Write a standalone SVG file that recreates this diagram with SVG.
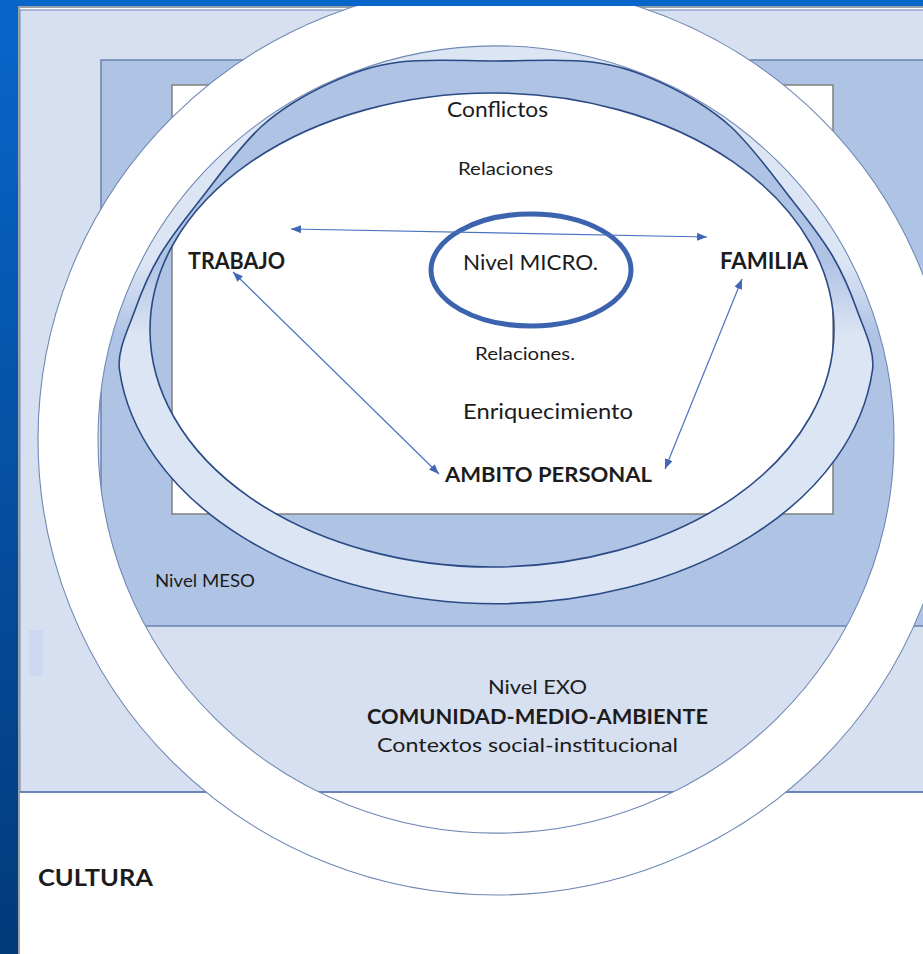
<svg xmlns="http://www.w3.org/2000/svg" width="923" height="954" viewBox="0 0 923 954">
<defs>
<linearGradient id="bg" x1="0" y1="0" x2="0" y2="1">
<stop offset="0" stop-color="#0866cb"/>
<stop offset="1" stop-color="#023a7a"/>
</linearGradient>
<linearGradient id="fade" gradientUnits="userSpaceOnUse" x1="0" y1="262" x2="0" y2="335">
<stop offset="0" stop-color="#ffffff"/>
<stop offset="1" stop-color="#000000"/>
</linearGradient>
<mask id="upper" maskUnits="userSpaceOnUse" x="0" y="0" width="923" height="954">
<rect x="0" y="0" width="923" height="954" fill="url(#fade)"/>
</mask>
<path id="shB" d="M119.5,370 C116.8,351 128.2,329.2 135,310 C141.8,290.8 149.2,273.3 160,255 C170.8,236.7 183,221.5 200,200 C217,178.5 240.3,145.5 262,126 C283.7,106.5 307,93.7 330,83 C353,72.3 372.3,65.7 400,62 C427.7,58.3 464,61 496,61 C528,61 564.3,58.3 592,62 C619.7,65.7 639,72.3 662,83 C685,93.7 708.3,106.5 730,126 C751.7,145.5 775,178.5 792,200 C809,221.5 821.2,236.7 832,255 C842.8,273.3 850.2,290.8 857,310 C863.8,329.2 875.2,351 872.5,370 A378.3,259 0 0 1 119.5,370 Z"/>
<marker id="ah" viewBox="0 0 10 8" refX="10" refY="4" markerWidth="10" markerHeight="8" markerUnits="userSpaceOnUse" orient="auto-start-reverse">
<path d="M0,0 L10,4 L0,8 Z" fill="#3f67b5"/>
</marker>
</defs>
<style>
.t{font-family:Lato,"Open Sans","Liberation Sans",sans-serif;fill:#1c1c1c}
.b{font-weight:bold}
.dk{fill:none;stroke:#2b4a85;stroke-width:1.6}
.pale{fill:#dce5f4}
.med{fill:#afc3e5}
.con{stroke:#4b72c0;stroke-width:1.2;fill:none;marker-start:url(#ah);marker-end:url(#ah)}
</style>
<rect x="0" y="0" width="923" height="954" fill="url(#bg)"/>
<g id="cultura">
<rect x="19" y="7" width="910" height="952" fill="#ffffff" stroke="#9aa0a8" stroke-width="2"/>
</g>
<g id="exo">
<rect x="20" y="10" width="910" height="782" fill="#d7e0f1" stroke="#7d93bd" stroke-width="1.2"/>
<line x1="20" y1="792" x2="923" y2="792" stroke="#5573a6" stroke-width="1.5"/>
<rect x="29" y="630" width="14" height="46" fill="#cbd8ef"/>
</g>
<g id="meso">
<rect x="101" y="60" width="830" height="566" fill="#afc3e5" stroke="#6c82ac" stroke-width="1.5"/>
</g>
<g id="micro-rect">
<rect x="172" y="85" width="661" height="429" fill="#ffffff" stroke="#808080" stroke-width="1.5"/>
</g>
<g id="micro-rings">
<path class="pale" fill-rule="evenodd" d="M119.5,370 C116.8,351 128.2,329.2 135,310 C141.8,290.8 149.2,273.3 160,255 C170.8,236.7 183,221.5 200,200 C217,178.5 240.3,145.5 262,126 C283.7,106.5 307,93.7 330,83 C353,72.3 372.3,65.7 400,62 C427.7,58.3 464,61 496,61 C528,61 564.3,58.3 592,62 C619.7,65.7 639,72.3 662,83 C685,93.7 708.3,106.5 730,126 C751.7,145.5 775,178.5 792,200 C809,221.5 821.2,236.7 832,255 C842.8,273.3 850.2,290.8 857,310 C863.8,329.2 875.2,351 872.5,370 A378.3,259 0 0 1 119.5,370 Z M150,330 a342,237 0 1,0 684,0 a342,237 0 1,0 -684,0 Z"/>
<g mask="url(#upper)">
<path class="pale" fill-rule="evenodd" d="M96,439.5 a400,395.5 0 1,0 800,0 a400,395.5 0 1,0 -800,0 Z M119.5,370 C116.8,351 128.2,329.2 135,310 C141.8,290.8 149.2,273.3 160,255 C170.8,236.7 183,221.5 200,200 C217,178.5 240.3,145.5 262,126 C283.7,106.5 307,93.7 330,83 C353,72.3 372.3,65.7 400,62 C427.7,58.3 464,61 496,61 C528,61 564.3,58.3 592,62 C619.7,65.7 639,72.3 662,83 C685,93.7 708.3,106.5 730,126 C751.7,145.5 775,178.5 792,200 C809,221.5 821.2,236.7 832,255 C842.8,273.3 850.2,290.8 857,310 C863.8,329.2 875.2,351 872.5,370 A378.3,259 0 0 1 119.5,370 Z"/>
<path class="med" fill-rule="evenodd" d="M119.5,370 C116.8,351 128.2,329.2 135,310 C141.8,290.8 149.2,273.3 160,255 C170.8,236.7 183,221.5 200,200 C217,178.5 240.3,145.5 262,126 C283.7,106.5 307,93.7 330,83 C353,72.3 372.3,65.7 400,62 C427.7,58.3 464,61 496,61 C528,61 564.3,58.3 592,62 C619.7,65.7 639,72.3 662,83 C685,93.7 708.3,106.5 730,126 C751.7,145.5 775,178.5 792,200 C809,221.5 821.2,236.7 832,255 C842.8,273.3 850.2,290.8 857,310 C863.8,329.2 875.2,351 872.5,370 A378.3,259 0 0 1 119.5,370 Z M150,330 a342,237 0 1,0 684,0 a342,237 0 1,0 -684,0 Z"/>
</g>
<use href="#shB" class="dk"/>
<ellipse class="dk" cx="492" cy="330" rx="342" ry="237"/>
</g>
<g id="big-ring">
<path fill="#ffffff" fill-rule="evenodd" stroke="#6f88b4" stroke-width="1.1" d="M38,439.5 a458,455.5 0 1,0 916,0 a458,455.5 0 1,0 -916,0 Z M98,439.5 a398,393.5 0 1,0 796,0 a398,393.5 0 1,0 -796,0 Z"/>
</g>
<rect x="0" y="0" width="923" height="6" fill="#0866cb"/>
<g id="nivel-micro">
<ellipse cx="531" cy="270" rx="100" ry="56" fill="none" stroke="#3c64ae" stroke-width="5"/>
<text class="t" x="463" y="270" font-size="22" textLength="135" lengthAdjust="spacingAndGlyphs">Nivel MICRO.</text>
</g>
<g id="connectors">
<line class="con" x1="291" y1="229" x2="707" y2="237"/>
<line class="con" x1="233" y1="272" x2="439" y2="474"/>
<line class="con" x1="742" y1="279" x2="665" y2="469"/>
</g>
<g id="labels-micro">
<text class="t" x="447" y="117" font-size="21" textLength="101" lengthAdjust="spacingAndGlyphs">Conflictos</text>
<text class="t" x="458" y="175" font-size="18" textLength="95" lengthAdjust="spacingAndGlyphs">Relaciones</text>
<text class="t" x="475" y="360" font-size="18" textLength="100" lengthAdjust="spacingAndGlyphs">Relaciones.</text>
<text class="t" x="463" y="419" font-size="21" textLength="170" lengthAdjust="spacingAndGlyphs">Enriquecimiento</text>
</g>
<g id="trabajo"><text class="t b" x="188" y="269" font-size="22" textLength="97" lengthAdjust="spacingAndGlyphs">TRABAJO</text></g>
<g id="familia"><text class="t b" x="720" y="269" font-size="22" textLength="88" lengthAdjust="spacingAndGlyphs">FAMILIA</text></g>
<g id="ambito"><text class="t b" x="445" y="482" font-size="21" textLength="207" lengthAdjust="spacingAndGlyphs">AMBITO PERSONAL</text></g>
<g id="meso-label"><text class="t" x="155" y="587" font-size="18" textLength="100" lengthAdjust="spacingAndGlyphs">Nivel MESO</text></g>
<g id="exo-labels">
<text class="t" x="488" y="694" font-size="20" textLength="99" lengthAdjust="spacingAndGlyphs">Nivel EXO</text>
<text class="t b" x="367" y="724" font-size="20" textLength="341" lengthAdjust="spacingAndGlyphs">COMUNIDAD-MEDIO-AMBIENTE</text>
<text class="t" x="377" y="752" font-size="20" textLength="301" lengthAdjust="spacingAndGlyphs">Contextos social-institucional</text>
</g>
<g id="cultura-label"><text class="t b" x="38" y="886" font-size="23" textLength="115" lengthAdjust="spacingAndGlyphs">CULTURA</text></g>
</svg>
